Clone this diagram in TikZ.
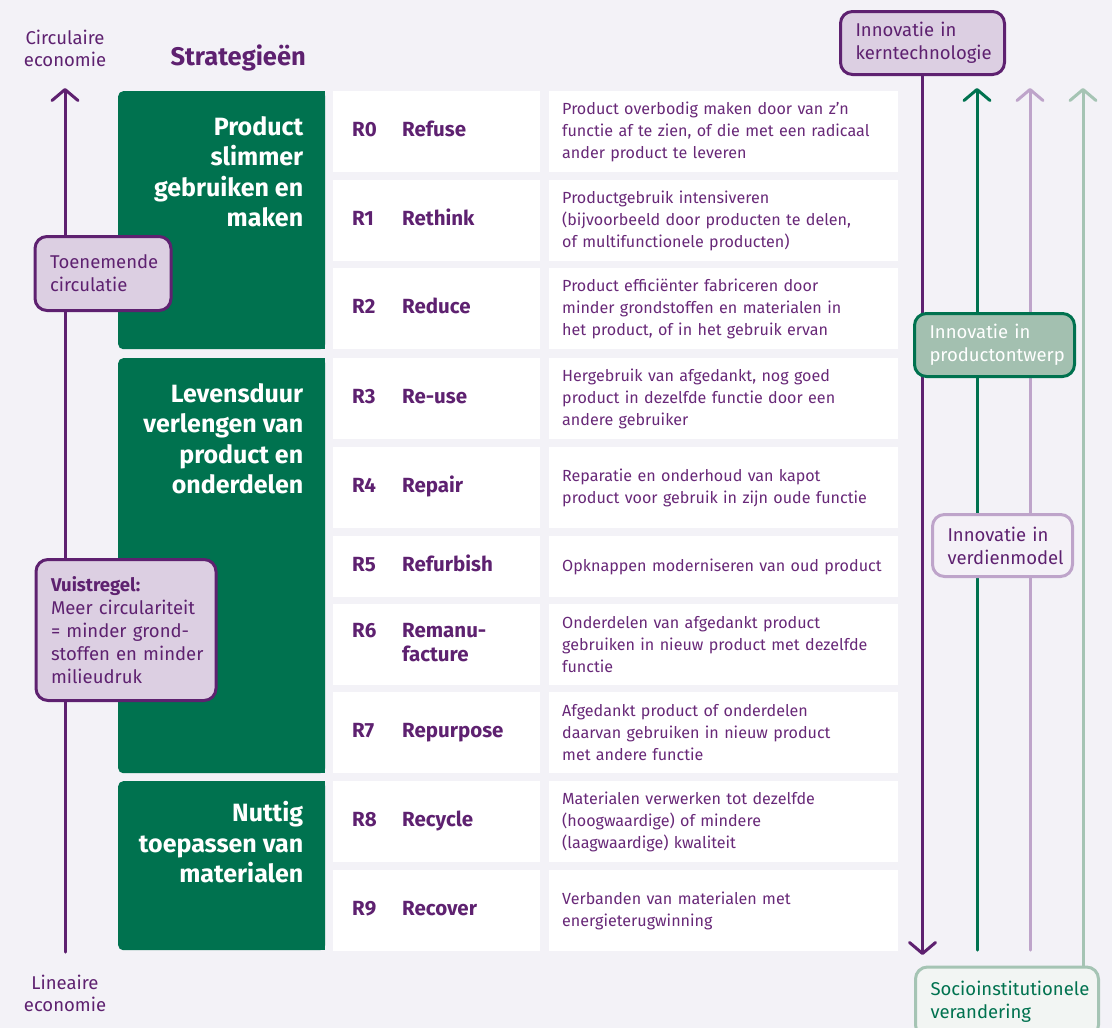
\documentclass[tikz,border=0pt]{standalone}
\usepackage{fontspec}
\setmainfont{Fira Sans}
\usetikzlibrary{arrows.meta}

\definecolor{bgcol}{RGB}{243,242,247}
\definecolor{rgreen}{RGB}{0,114,79}
\definecolor{rpurple}{RGB}{94,33,112}
\definecolor{txtpurple}{RGB}{104,40,120}
\definecolor{lilafill}{RGB}{220,207,226}
\definecolor{lilaline}{RGB}{190,164,202}
\definecolor{sagefill}{RGB}{163,192,176}
\definecolor{sageline}{RGB}{165,196,180}
\definecolor{palefill}{RGB}{244,241,247}
\definecolor{palegreen}{RGB}{242,245,243}

\newcommand{\rtag}[2]{\begin{tabular}{@{}p{50pt}@{}l@{}}#1&#2\end{tabular}}

\tikzset{
  block/.style={fill=rgreen, rounded corners=5pt, minimum width=207pt, anchor=north west, inner sep=0pt},
  blocktext/.style={text=white, font=\fontsize{25}{30.6}\selectfont\bfseries, align=right, anchor=north east, inner sep=0pt},
  rcell/.style={fill=white, minimum width=207pt, text width=169pt, inner xsep=19pt, inner ysep=0pt, anchor=north west, align=left, text=rpurple, font=\fontsize{20.5}{24}\selectfont\bfseries},
  dcell/.style={fill=white, minimum width=349pt, text width=323pt, inner xsep=13pt, inner ysep=0pt, anchor=north west, align=left, text=txtpurple, font=\fontsize{16.1}{22}\selectfont},
  notebox/.style={rounded corners=12pt, line width=3pt, inner xsep=15pt, inner ysep=0pt, align=left, font=\fontsize{18.5}{23}\selectfont},
  axistext/.style={text=rpurple, align=center, font=\fontsize{18.5}{22}\selectfont},
  rline/.style={line width=3pt, line cap=round},
  barb/.style={-{Straight Barb[length=11pt,width=26pt,round]}},
}

\begin{document}
\begin{tikzpicture}[x=1pt,y=-1pt]
\useasboundingbox (0,0) rectangle (1112,1028);
\fill[bgcol] (0,0) rectangle (1112,1028);

\node[axistext] (circ) at (65,48) {Circulaire\\economie};
\node[axistext] (lin) at (65,993) {Lineaire\\economie};
\node[anchor=west, text=rpurple, font=\fontsize{25.5}{28}\selectfont\bfseries] (strat) at (167,58) {Strategieën};

\coordinate (cirtop) at (65,88);
\coordinate (linbot) at (65,952);
\draw[rline, barb, rpurple] (linbot) -- (cirtop);

\node[block, minimum height=258pt] (blockA) at (118,91) {};
\node[block, minimum height=415pt] (blockB) at (118,358) {};
\node[block, minimum height=169pt] (blockC) at (118,781) {};
\fill[rgreen] (blockA.north) rectangle (blockA.south east);
\fill[rgreen] (blockB.north) rectangle (blockB.south east);
\fill[rgreen] (blockC.north) rectangle (blockC.south east);
\node[blocktext] (textA) at ([xshift=-22pt,yshift=-25pt]blockA.north east) {Product\\slimmer\\gebruiken en\\maken};
\node[blocktext] (textB) at ([xshift=-22pt,yshift=-25pt]blockB.north east) {Levensduur\\verlengen van\\product en\\onderdelen};
\node[blocktext] (textC) at ([xshift=-22pt,yshift=-20pt]blockC.north east) {Nuttig\\toepassen van\\materialen};

\node[rcell, minimum height=81pt] (r0) at (333,91) {\rtag{R0}{Refuse}};
\node[rcell, minimum height=81pt] (r1) at (333,180) {\rtag{R1}{Rethink}};
\node[rcell, minimum height=81pt] (r2) at (333,268) {\rtag{R2}{Reduce}};
\node[rcell, minimum height=81pt] (r3) at (333,358) {\rtag{R3}{Re-use}};
\node[rcell, minimum height=81pt] (r4) at (333,447) {\rtag{R4}{Repair}};
\node[rcell, minimum height=61pt] (r5) at (333,536) {\rtag{R5}{Refurbish}};
\node[rcell, minimum height=81pt] (r6) at (333,604) {\rtag{R6}{Remanu-\\&facture}};
\node[rcell, minimum height=81pt] (r7) at (333,692) {\rtag{R7}{Repurpose}};
\node[rcell, minimum height=81pt] (r8) at (333,781) {\rtag{R8}{Recycle}};
\node[rcell, minimum height=81pt] (r9) at (333,870) {\rtag{R9}{Recover}};

\node[dcell, minimum height=81pt] (d0) at (549,91) {Product overbodig maken door van z’n\\functie af te zien, of die met een radicaal\\ander product te leveren};
\node[dcell, minimum height=81pt] (d1) at (549,180) {Productgebruik intensiveren\\(bijvoorbeeld door producten te delen,\\of multifunctionele producten)};
\node[dcell, minimum height=81pt] (d2) at (549,268) {Product efficiënter fabriceren door\\minder grondstoffen en materialen in\\het product, of in het gebruik ervan};
\node[dcell, minimum height=81pt] (d3) at (549,358) {Hergebruik van afgedankt, nog goed\\product in dezelfde functie door een\\andere gebruiker};
\node[dcell, minimum height=81pt] (d4) at (549,447) {Reparatie en onderhoud van kapot\\product voor gebruik in zijn oude functie};
\node[dcell, minimum height=61pt] (d5) at (549,536) {Opknappen moderniseren van oud product};
\node[dcell, minimum height=81pt] (d6) at (549,604) {Onderdelen van afgedankt product\\gebruiken in nieuw product met dezelfde\\functie};
\node[dcell, minimum height=81pt] (d7) at (549,692) {Afgedankt product of onderdelen\\daarvan gebruiken in nieuw product\\met andere functie};
\node[dcell, minimum height=81pt] (d8) at (549,781) {Materialen verwerken tot dezelfde\\(hoogwaardige) of mindere\\(laagwaardige) kwaliteit};
\node[dcell, minimum height=81pt] (d9) at (549,870) {Verbanden van materialen met\\energieterugwinning};

\coordinate (kernend) at (922.5,955);
\coordinate (greentop) at (977,88);
\coordinate (greenbot) at (977,950);
\coordinate (lilatop) at (1030,88);
\coordinate (lilabot) at (1030,950);
\coordinate (sociotop) at (1083,88);
\draw[rline, barb, rgreen] (greenbot) -- (greentop);
\draw[rline, barb, lilaline] (lilabot) -- (lilatop);

\node[notebox, draw=rpurple, fill=lilafill, text=rpurple, text width=106pt, minimum height=74pt] (circul) at (103,273.5) {Toenemende\\circulatie};
\node[notebox, draw=rpurple, fill=lilafill, text=rpurple, text width=150pt, minimum height=141pt] (vuist) at (126,630) {\textbf{Vuistregel:}\\Meer circulariteit\\= minder grond-\\\mbox{stoffen en minder}\\milieudruk};

\node[notebox, draw=rpurple, fill=lilafill, text=rpurple, text width=134pt, minimum height=63pt] (kern) at (922.5,43) {Innovatie in\\kerntechnologie};
\draw[rline, barb, rpurple] (kern.south) -- (kernend);
\node[notebox, draw=rgreen, fill=sagefill, text=white, text width=130pt, minimum height=63pt] (ontwerp) at (994.5,345) {Innovatie in\\productontwerp};
\node[notebox, draw=lilaline, fill=palefill, text=rpurple, text width=110pt, minimum height=62pt] (verdien) at (1002.5,545.5) {Innovatie in\\verdienmodel};
\node[notebox, draw=sageline, fill=palegreen, text=rgreen, text width=153pt, minimum height=70pt] (socio) at (1007,1002) {Socioinstitutionele\\verandering};
\draw[rline, barb, sageline] (socio.north -| sociotop) -- (sociotop);
\end{tikzpicture}
\end{document}
